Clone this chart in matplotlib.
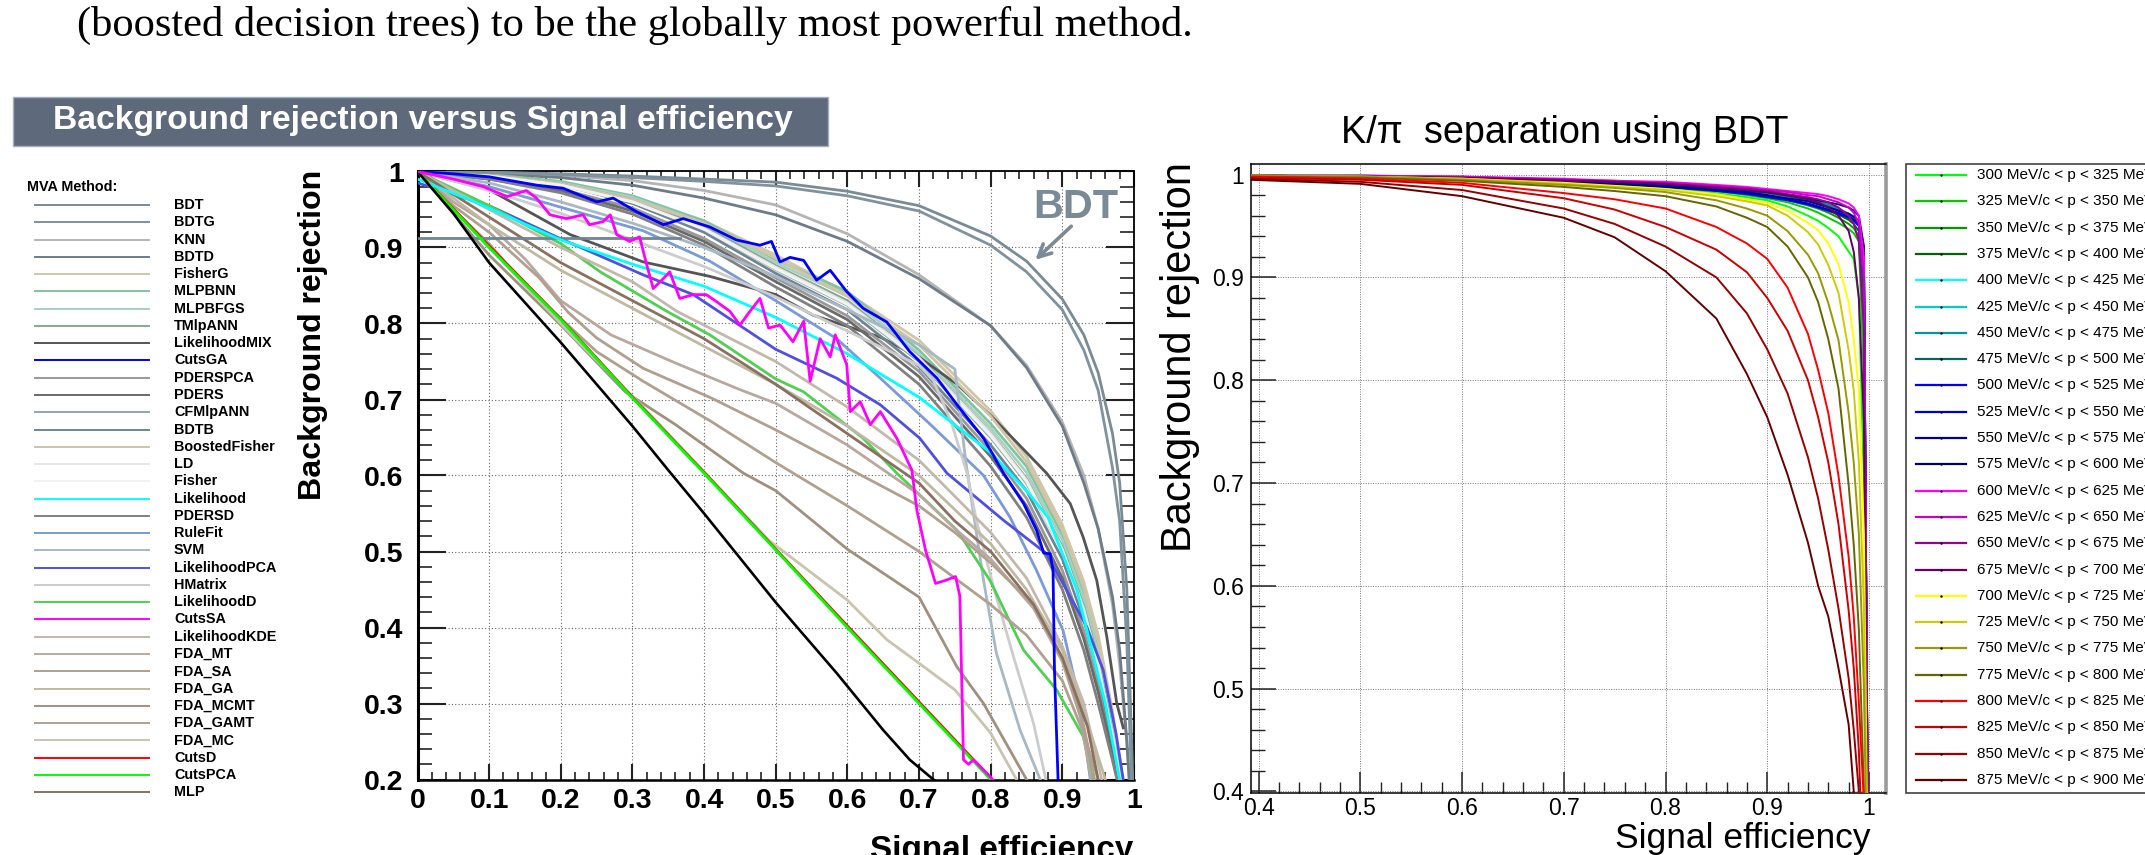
import numpy as np
import matplotlib
matplotlib.use('Agg')
import matplotlib.pyplot as plt
from matplotlib.ticker import MultipleLocator
from matplotlib.patches import Rectangle
from matplotlib.lines import Line2D

plt.rcParams['font.family'] = ['Liberation Sans', 'DejaVu Sans']

# ---------------------------------------------------------------- left plot data
methods = ['BDT', 'BDTG', 'KNN', 'BDTD', 'FisherG', 'MLPBNN', 'MLPBFGS', 'TMlpANN',
           'LikelihoodMIX', 'CutsGA', 'PDERSPCA', 'PDERS', 'CFMlpANN', 'BDTB',
           'BoostedFisher', 'LD', 'Fisher', 'Likelihood', 'PDERSD', 'RuleFit', 'SVM',
           'LikelihoodPCA', 'HMatrix', 'LikelihoodD', 'CutsSA', 'LikelihoodKDE',
           'FDA_MT', 'FDA_SA', 'FDA_GA', 'FDA_MCMT', 'FDA_GAMT', 'FDA_MC', 'CutsD',
           'CutsPCA', 'MLP']
method_colors = ['#7a8b95', '#7f929e', '#b5b5b5', '#6e7b88', '#cfc7a8', '#80c4a0',
                 '#a8d0c0', '#88a890', '#555555', '#0000ff', '#999999', '#6a6a6a',
                 '#8fa8a0', '#6e8595', '#cfc4a8', '#e6e6e6', '#f2f2f2', '#00ffff',
                 '#808080', '#7a9ad8', '#a8b8c4', '#5050e0', '#cccccc', '#50d050',
                 '#ff00ff', '#c4b8ac', '#b8a8a0', '#b0a090', '#c0b8a0', '#a09080',
                 '#b0a090', '#c8c4b0', '#ff0000', '#00ff00', '#8a7060']

# common signal-efficiency grid for the smooth curves
XG = [0, 0.1, 0.2, 0.3, 0.4, 0.5, 0.6, 0.7, 0.8, 0.85, 0.9, 0.93, 0.95, 0.97, 0.98, 0.99, 1.0]
y_BDT = [1.0, 0.999, 0.997, 0.994, 0.99, 0.986, 0.974, 0.955, 0.915, 0.882, 0.832, 0.785, 0.735, 0.655, 0.59, 0.45, 0.15]
y_BDTG = [1.0, 0.999, 0.996, 0.992, 0.987, 0.981, 0.968, 0.948, 0.903, 0.868, 0.818, 0.765, 0.712, 0.61, 0.54, 0.38, 0.1]
y_KNN = [1.0, 0.998, 0.995, 0.988, 0.975, 0.956, 0.918, 0.864, 0.797, 0.745, 0.67, 0.6, 0.53, 0.43, 0.35, 0.25, 0.1]
y_BDTD = [1.0, 0.997, 0.992, 0.982, 0.965, 0.943, 0.908, 0.859, 0.797, 0.742, 0.665, 0.59, 0.53, 0.44, 0.37, 0.25, 0.1]
y_FisherG = [1.0, 0.995, 0.985, 0.965, 0.935, 0.89, 0.84, 0.778, 0.685, 0.625, 0.535, 0.46, 0.39, 0.29, 0.225, 0.15, 0.08]
y_MLPBNN = [1.0, 0.996, 0.987, 0.968, 0.935, 0.884, 0.842, 0.765, 0.668, 0.612, 0.522, 0.445, 0.375, 0.275, 0.215, 0.15, 0.08]
y_MLPBFGS = [1.0, 0.995, 0.985, 0.966, 0.932, 0.88, 0.836, 0.76, 0.662, 0.604, 0.515, 0.438, 0.366, 0.268, 0.21, 0.15, 0.08]
y_TMlpANN = [1.0, 0.995, 0.984, 0.963, 0.928, 0.876, 0.83, 0.756, 0.656, 0.596, 0.506, 0.428, 0.357, 0.262, 0.205, 0.15, 0.08]
y_PDERSPCA = [1.0, 0.992, 0.977, 0.952, 0.912, 0.86, 0.81, 0.737, 0.632, 0.57, 0.475, 0.395, 0.325, 0.24, 0.195, 0.15, 0.08]
y_PDERS = [1.0, 0.99, 0.975, 0.948, 0.908, 0.855, 0.805, 0.73, 0.625, 0.56, 0.465, 0.385, 0.315, 0.235, 0.19, 0.15, 0.08]
y_CFMlpANN = [1.0, 0.994, 0.982, 0.96, 0.924, 0.871, 0.824, 0.75, 0.65, 0.59, 0.50, 0.42, 0.35, 0.255, 0.2, 0.15, 0.08]
y_BDTB = [1.0, 0.995, 0.983, 0.958, 0.92, 0.866, 0.818, 0.743, 0.64, 0.58, 0.49, 0.41, 0.34, 0.25, 0.2, 0.15, 0.08]
y_BoostedFisher = [1.0, 0.995, 0.984, 0.963, 0.932, 0.886, 0.836, 0.772, 0.678, 0.618, 0.528, 0.452, 0.382, 0.282, 0.218, 0.15, 0.08]
y_LD = [1.0, 0.994, 0.982, 0.96, 0.925, 0.874, 0.827, 0.755, 0.655, 0.594, 0.503, 0.424, 0.352, 0.258, 0.203, 0.15, 0.08]
y_Fisher = [1.0, 0.994, 0.982, 0.96, 0.924, 0.872, 0.825, 0.752, 0.652, 0.592, 0.5, 0.42, 0.35, 0.256, 0.2, 0.15, 0.08]
y_PDERSD = [1.0, 0.99, 0.972, 0.944, 0.903, 0.848, 0.797, 0.72, 0.612, 0.545, 0.45, 0.37, 0.30, 0.225, 0.185, 0.15, 0.08]

x_LikelihoodMIX = [0, 0.1, 0.213, 0.315, 0.408, 0.5, 0.552, 0.646, 0.701, 0.753, 0.799, 0.878, 0.911, 0.929, 0.948, 0.962, 0.976, 0.985]
y_LikelihoodMIX = [1.0, 0.976, 0.917, 0.881, 0.862, 0.838, 0.811, 0.782, 0.755, 0.72, 0.68, 0.603, 0.563, 0.519, 0.462, 0.388, 0.30, 0.268]

x_CutsGA = [0, 0.05, 0.1, 0.166, 0.203, 0.25, 0.273, 0.306, 0.343, 0.371, 0.408, 0.445, 0.478, 0.494,
            0.506, 0.52, 0.539, 0.557, 0.576, 0.599, 0.622, 0.655, 0.687, 0.725, 0.753, 0.79, 0.818,
            0.846, 0.864, 0.874, 0.883, 0.887, 0.889, 0.894]
y_CutsGA = [1.0, 0.997, 0.993, 0.982, 0.978, 0.96, 0.965, 0.947, 0.93, 0.938, 0.927, 0.91, 0.903, 0.908,
            0.881, 0.887, 0.883, 0.857, 0.870, 0.842, 0.820, 0.802, 0.763, 0.728, 0.693, 0.649, 0.603,
            0.563, 0.528, 0.498, 0.497, 0.475, 0.344, 0.2]

x_Likelihood = [0, 0.08, 0.2, 0.3, 0.4, 0.5, 0.6, 0.7, 0.8, 0.85, 0.88, 0.92, 0.96, 0.98]
y_Likelihood = [0.99, 0.96, 0.91, 0.878, 0.849, 0.808, 0.76, 0.703, 0.63, 0.58, 0.545, 0.45, 0.3, 0.2]

x_RuleFit = [0, 0.1, 0.2, 0.315, 0.408, 0.5, 0.585, 0.646, 0.716, 0.79, 0.827, 0.864, 0.901, 0.925, 0.939]
y_RuleFit = [1.0, 0.98, 0.953, 0.922, 0.882, 0.83, 0.78, 0.728, 0.667, 0.6, 0.545, 0.475, 0.396, 0.30, 0.2]

x_SVM = [0, 0.1, 0.2, 0.3, 0.4, 0.5, 0.6, 0.7, 0.75, 0.765, 0.776, 0.79, 0.808, 0.841, 0.869]
y_SVM = [1.0, 0.985, 0.96, 0.932, 0.9, 0.862, 0.818, 0.772, 0.74, 0.62, 0.55, 0.462, 0.366, 0.265, 0.2]

x_LikelihoodPCA = [0, 0.1, 0.194, 0.315, 0.385, 0.5, 0.585, 0.646, 0.701, 0.739, 0.818, 0.878, 0.934, 0.957, 0.975, 0.985]
y_LikelihoodPCA = [0.985, 0.955, 0.914, 0.864, 0.838, 0.766, 0.728, 0.693, 0.649, 0.603, 0.541, 0.497, 0.401, 0.344, 0.26, 0.2]

x_HMatrix = [0, 0.1, 0.2, 0.3, 0.4, 0.5, 0.6, 0.7, 0.72, 0.745, 0.767, 0.78, 0.804, 0.832, 0.86, 0.877]
y_HMatrix = [1.0, 0.975, 0.945, 0.91, 0.875, 0.835, 0.79, 0.745, 0.725, 0.67, 0.603, 0.541, 0.453, 0.361, 0.273, 0.2]

x_LikelihoodD = [0, 0.1, 0.2, 0.255, 0.348, 0.408, 0.5, 0.539, 0.622, 0.669, 0.753, 0.799, 0.846, 0.892, 0.929, 0.943]
y_LikelihoodD = [1.0, 0.955, 0.905, 0.868, 0.816, 0.785, 0.727, 0.71, 0.649, 0.603, 0.528, 0.462, 0.37, 0.318, 0.257, 0.2]

x_CutsSA = [0.0, 0.05, 0.092, 0.125, 0.152, 0.166, 0.185, 0.208, 0.231, 0.24, 0.259, 0.269, 0.278, 0.296,
            0.31, 0.32, 0.329, 0.343, 0.352, 0.366, 0.385, 0.403, 0.417, 0.436, 0.45, 0.464, 0.478, 0.49,
            0.506, 0.524, 0.539, 0.548, 0.562, 0.576, 0.583, 0.599, 0.604, 0.618, 0.632, 0.646, 0.669,
            0.69, 0.697, 0.709, 0.723, 0.737, 0.751, 0.757, 0.762, 0.769, 0.776, 0.799, 0.82]
y_CutsSA = [1.0, 0.99, 0.98, 0.967, 0.975, 0.965, 0.943, 0.938, 0.943, 0.93, 0.934, 0.943, 0.917, 0.908,
            0.914, 0.877, 0.846, 0.859, 0.868, 0.833, 0.838, 0.838, 0.829, 0.816, 0.798, 0.816, 0.833, 0.794,
            0.798, 0.776, 0.803, 0.724, 0.780, 0.756, 0.785, 0.746, 0.684, 0.697, 0.667, 0.684, 0.649,
            0.607, 0.554, 0.502, 0.458, 0.462, 0.467, 0.441, 0.226, 0.220, 0.226, 0.204, 0.18]

x_LikelihoodKDE = [0, 0.1, 0.2, 0.3, 0.362, 0.5, 0.6, 0.7, 0.8, 0.85, 0.9, 0.93, 0.955]
y_LikelihoodKDE = [1.0, 0.95, 0.90, 0.855, 0.816, 0.75, 0.69, 0.62, 0.525, 0.465, 0.375, 0.3, 0.2]

x_FDA_MT = [0, 0.05, 0.1, 0.15, 0.2, 0.27, 0.36, 0.45, 0.5, 0.6, 0.7, 0.75, 0.8, 0.86, 0.9, 0.925, 0.94]
y_FDA_MT = [1.0, 0.96, 0.93, 0.885, 0.83, 0.785, 0.748, 0.713, 0.695, 0.64, 0.575, 0.53, 0.49, 0.425, 0.355, 0.283, 0.2]

x_FDA_SA = [0, 0.05, 0.1, 0.17, 0.21, 0.25, 0.315, 0.41, 0.5, 0.6, 0.7, 0.75, 0.8, 0.86, 0.9, 0.93, 0.945]
y_FDA_SA = [1.0, 0.955, 0.92, 0.86, 0.815, 0.781, 0.741, 0.702, 0.66, 0.61, 0.56, 0.525, 0.485, 0.43, 0.36, 0.27, 0.2]

x_FDA_GA = [0, 0.1, 0.2, 0.3, 0.4, 0.5, 0.6, 0.7, 0.75, 0.8, 0.85, 0.9, 0.93, 0.96]
y_FDA_GA = [1.0, 0.93, 0.87, 0.82, 0.77, 0.72, 0.665, 0.60, 0.555, 0.51, 0.45, 0.37, 0.29, 0.2]

x_FDA_MCMT = [0, 0.05, 0.1, 0.2, 0.29, 0.36, 0.455, 0.5, 0.6, 0.7, 0.753, 0.79, 0.85]
y_FDA_MCMT = [1.0, 0.945, 0.89, 0.798, 0.71, 0.667, 0.603, 0.58, 0.503, 0.44, 0.348, 0.3, 0.2]

x_FDA_GAMT = [0, 0.05, 0.1, 0.15, 0.25, 0.315, 0.41, 0.5, 0.6, 0.7, 0.8, 0.85, 0.9, 0.93, 0.95]
y_FDA_GAMT = [1.0, 0.95, 0.905, 0.85, 0.763, 0.724, 0.671, 0.617, 0.56, 0.5, 0.43, 0.39, 0.33, 0.26, 0.2]

x_FDA_MC = [0, 0.05, 0.1, 0.22, 0.315, 0.4, 0.49, 0.6, 0.655, 0.7, 0.75, 0.8, 0.836]
y_FDA_MC = [1.0, 0.95, 0.9, 0.78, 0.69, 0.605, 0.515, 0.436, 0.384, 0.353, 0.318, 0.261, 0.2]

x_Cuts = [0, 0.05, 0.1, 0.2, 0.3, 0.4, 0.5, 0.6, 0.7, 0.8, 0.82]
y_CutsD = [1.0, 0.951, 0.902, 0.806, 0.703, 0.604, 0.503, 0.402, 0.302, 0.202, 0.18]
y_CutsPCA = [1.0, 0.95, 0.9, 0.805, 0.702, 0.603, 0.502, 0.40, 0.30, 0.2, 0.18]

x_MLP = [0, 0.1, 0.2, 0.3, 0.4, 0.5, 0.6, 0.7, 0.75, 0.8, 0.86, 0.9, 0.935, 0.95]
y_MLP = [1.0, 0.94, 0.88, 0.83, 0.78, 0.72, 0.655, 0.59, 0.54, 0.50, 0.43, 0.36, 0.27, 0.2]

# unlabelled curves also drawn in the frame
x_black = [0, 0.05, 0.1, 0.2, 0.3, 0.35, 0.4, 0.5, 0.585, 0.65, 0.687, 0.72, 0.75]
y_black = [1.0, 0.945, 0.88, 0.775, 0.665, 0.607, 0.55, 0.433, 0.34, 0.265, 0.226, 0.2, 0.18]
x_flat = [0.0, 0.366]
y_flat = [0.913, 0.913]

# ---------------------------------------------------------------- right plot data
p_low = [300, 325, 350, 375, 400, 425, 450, 475, 500, 525, 550, 575,
         600, 625, 650, 675, 700, 725, 750, 775, 800, 825, 850, 875]
p_colors = ['#00ff00', '#00cc00', '#009900', '#006600', '#00ffff', '#00cccc', '#009999', '#006666',
            '#0000ff', '#0000cc', '#000099', '#000066', '#ff00ff', '#cc00cc', '#990099', '#660066',
            '#ffff00', '#cccc00', '#999900', '#666600', '#ff0000', '#cc0000', '#990000', '#660000']
XR = [0.39, 0.5, 0.6, 0.7, 0.75, 0.8, 0.85, 0.88, 0.9, 0.92, 0.94, 0.95, 0.96, 0.97, 0.98, 0.985, 0.99, 0.995, 1.0]
r300 = [0.999, 0.998, 0.996, 0.992, 0.99, 0.987, 0.982, 0.978, 0.975, 0.969, 0.96, 0.955, 0.948, 0.94, 0.925, 0.918, 0.88, 0.70, 0.2]
r325 = [0.999, 0.998, 0.996, 0.993, 0.991, 0.988, 0.984, 0.980, 0.977, 0.973, 0.967, 0.963, 0.958, 0.953, 0.947, 0.943, 0.935, 0.80, 0.2]
r350 = [0.999, 0.998, 0.997, 0.994, 0.992, 0.989, 0.985, 0.982, 0.979, 0.975, 0.970, 0.967, 0.963, 0.958, 0.952, 0.948, 0.94, 0.85, 0.2]
r375 = [0.999, 0.998, 0.997, 0.994, 0.992, 0.990, 0.986, 0.983, 0.980, 0.976, 0.971, 0.968, 0.965, 0.961, 0.956, 0.952, 0.945, 0.88, 0.2]
r400 = [0.999, 0.999, 0.997, 0.995, 0.993, 0.991, 0.988, 0.985, 0.982, 0.979, 0.975, 0.972, 0.969, 0.965, 0.960, 0.957, 0.951, 0.90, 0.2]
r425 = [0.999, 0.999, 0.997, 0.995, 0.993, 0.991, 0.988, 0.985, 0.983, 0.980, 0.976, 0.973, 0.970, 0.966, 0.961, 0.958, 0.953, 0.92, 0.2]
r450 = [0.999, 0.998, 0.997, 0.995, 0.993, 0.991, 0.988, 0.986, 0.983, 0.980, 0.976, 0.974, 0.971, 0.967, 0.962, 0.959, 0.954, 0.93, 0.2]
r475 = [0.999, 0.998, 0.997, 0.994, 0.992, 0.990, 0.987, 0.984, 0.982, 0.979, 0.975, 0.972, 0.969, 0.965, 0.960, 0.957, 0.952, 0.92, 0.2]
r500 = [0.999, 0.998, 0.996, 0.993, 0.991, 0.988, 0.984, 0.981, 0.978, 0.975, 0.971, 0.968, 0.965, 0.962, 0.958, 0.955, 0.950, 0.90, 0.2]
r525 = [0.999, 0.998, 0.996, 0.993, 0.991, 0.988, 0.985, 0.982, 0.979, 0.976, 0.972, 0.969, 0.966, 0.963, 0.959, 0.956, 0.951, 0.91, 0.2]
r550 = [0.999, 0.998, 0.996, 0.993, 0.991, 0.989, 0.985, 0.983, 0.980, 0.977, 0.974, 0.971, 0.968, 0.965, 0.962, 0.959, 0.955, 0.92, 0.2]
r575 = [0.999, 0.998, 0.997, 0.994, 0.992, 0.990, 0.987, 0.985, 0.983, 0.980, 0.977, 0.975, 0.973, 0.971, 0.968, 0.965, 0.960, 0.93, 0.2]
r600 = [0.999, 0.999, 0.998, 0.996, 0.994, 0.993, 0.990, 0.988, 0.986, 0.984, 0.982, 0.981, 0.979, 0.976, 0.972, 0.968, 0.960, 0.92, 0.2]
r625 = [0.999, 0.999, 0.998, 0.995, 0.994, 0.992, 0.989, 0.987, 0.985, 0.983, 0.980, 0.979, 0.976, 0.973, 0.968, 0.963, 0.952, 0.90, 0.2]
r650 = [0.999, 0.998, 0.997, 0.995, 0.993, 0.991, 0.988, 0.986, 0.984, 0.981, 0.978, 0.976, 0.973, 0.968, 0.960, 0.952, 0.935, 0.85, 0.2]
r675 = [0.999, 0.998, 0.997, 0.994, 0.993, 0.991, 0.987, 0.985, 0.983, 0.980, 0.976, 0.973, 0.968, 0.960, 0.945, 0.925, 0.88, 0.76, 0.2]
r700 = [0.999, 0.998, 0.996, 0.992, 0.989, 0.986, 0.981, 0.976, 0.972, 0.965, 0.953, 0.946, 0.933, 0.913, 0.876, 0.84, 0.79, 0.65, 0.2]
r725 = [0.999, 0.998, 0.996, 0.991, 0.988, 0.985, 0.979, 0.974, 0.97, 0.96, 0.944, 0.932, 0.912, 0.885, 0.829, 0.79, 0.721, 0.58, 0.2]
r750 = [0.999, 0.998, 0.995, 0.99, 0.987, 0.983, 0.975, 0.967, 0.96, 0.945, 0.922, 0.904, 0.875, 0.839, 0.768, 0.72, 0.651, 0.5, 0.2]
r775 = [0.998, 0.997, 0.994, 0.988, 0.984, 0.979, 0.969, 0.958, 0.949, 0.93, 0.9, 0.876, 0.84, 0.792, 0.698, 0.64, 0.558, 0.40, 0.1]
r800 = [0.998, 0.996, 0.992, 0.982, 0.976, 0.967, 0.949, 0.933, 0.918, 0.89, 0.845, 0.81, 0.768, 0.707, 0.628, 0.57, 0.487, 0.39, 0.1]
r825 = [0.997, 0.995, 0.99, 0.977, 0.966, 0.949, 0.927, 0.905, 0.88, 0.848, 0.80, 0.764, 0.72, 0.66, 0.576, 0.52, 0.44, 0.3, 0.1]
r850 = [0.996, 0.993, 0.985, 0.967, 0.952, 0.93, 0.90, 0.865, 0.83, 0.787, 0.725, 0.685, 0.635, 0.578, 0.51, 0.46, 0.40, 0.3, 0.1]
r875 = [0.995, 0.991, 0.979, 0.958, 0.939, 0.906, 0.86, 0.806, 0.764, 0.708, 0.642, 0.60, 0.57, 0.52, 0.465, 0.40, 0.3, 0.2, 0.1]

# ---------------------------------------------------------------- texts
top_sentence = '(boosted decision trees) to be the globally most powerful method.'
banner_title = 'Background rejection versus Signal efficiency'
right_title = 'K/\u03c0  separation using BDT'
xlabel = 'Signal efficiency'
ylabel = 'Background rejection'

# ---------------------------------------------------------------- figure
W, H = 2145, 855
fig = plt.figure(figsize=(W / 100, H / 100), dpi=100)
fig.patch.set_facecolor('white')


def fx(px):
    return px / W


def fy(py):
    return 1 - py / H


curves = {
    'BDT': (XG, y_BDT), 'BDTG': (XG, y_BDTG), 'KNN': (XG, y_KNN), 'BDTD': (XG, y_BDTD),
    'FisherG': (XG, y_FisherG), 'MLPBNN': (XG, y_MLPBNN), 'MLPBFGS': (XG, y_MLPBFGS),
    'TMlpANN': (XG, y_TMlpANN), 'LikelihoodMIX': (x_LikelihoodMIX, y_LikelihoodMIX),
    'CutsGA': (x_CutsGA, y_CutsGA), 'PDERSPCA': (XG, y_PDERSPCA), 'PDERS': (XG, y_PDERS),
    'CFMlpANN': (XG, y_CFMlpANN), 'BDTB': (XG, y_BDTB), 'BoostedFisher': (XG, y_BoostedFisher),
    'LD': (XG, y_LD), 'Fisher': (XG, y_Fisher), 'Likelihood': (x_Likelihood, y_Likelihood),
    'PDERSD': (XG, y_PDERSD), 'RuleFit': (x_RuleFit, y_RuleFit), 'SVM': (x_SVM, y_SVM),
    'LikelihoodPCA': (x_LikelihoodPCA, y_LikelihoodPCA), 'HMatrix': (x_HMatrix, y_HMatrix),
    'LikelihoodD': (x_LikelihoodD, y_LikelihoodD), 'CutsSA': (x_CutsSA, y_CutsSA),
    'LikelihoodKDE': (x_LikelihoodKDE, y_LikelihoodKDE), 'FDA_MT': (x_FDA_MT, y_FDA_MT),
    'FDA_SA': (x_FDA_SA, y_FDA_SA), 'FDA_GA': (x_FDA_GA, y_FDA_GA),
    'FDA_MCMT': (x_FDA_MCMT, y_FDA_MCMT), 'FDA_GAMT': (x_FDA_GAMT, y_FDA_GAMT),
    'FDA_MC': (x_FDA_MC, y_FDA_MC), 'CutsD': (x_Cuts, y_CutsD), 'CutsPCA': (x_Cuts, y_CutsPCA),
    'MLP': (x_MLP, y_MLP),
}
top_z = {'CutsGA': 4, 'CutsSA': 4, 'Likelihood': 3.5, 'CutsPCA': 3.2, 'BDT': 3.6, 'BDTG': 3.6}

# ---- left axes
axL = fig.add_axes([fx(417.5), fy(779.5), (1134 - 417.5) / W, (779.5 - 171.5) / H])
for name, col in zip(methods, method_colors):
    xs, ys = curves[name]
    axL.plot(xs, ys, color=col, lw=2.0, zorder=top_z.get(name, 3), solid_joinstyle='round')
axL.plot(x_black, y_black, color='black', lw=1.9, zorder=3.8)
axL.plot(x_flat, y_flat, color='#6e8595', lw=2.0, zorder=3.1)

axL.set_xlim(0, 1)
axL.set_ylim(0.2, 1)
xt = np.round(np.arange(0, 1.0001, 0.1), 2)
yt = np.round(np.arange(0.2, 1.0001, 0.1), 2)
axL.set_xticks(xt, labels=[f'{v:g}' for v in xt], fontsize=20.5, fontweight='bold')
axL.set_yticks(yt, labels=[f'{v:g}' for v in yt], fontsize=20.5, fontweight='bold')
axL.xaxis.set_minor_locator(MultipleLocator(0.02))
axL.yaxis.set_minor_locator(MultipleLocator(0.02))
axL.tick_params(which='both', direction='in', top=True, right=True, color='#222222')
axL.tick_params(axis='y', which='major', length=20, width=1.5, pad=10)
axL.tick_params(axis='y', which='minor', length=10, width=1.2)
axL.tick_params(axis='x', which='major', length=11.5, width=1.5, pad=6)
axL.tick_params(axis='x', which='minor', length=6, width=1.2)
axL.grid(True, which='major', linestyle=(0, (1, 2)), color='#666666', lw=0.8, zorder=0)
axL.set_axisbelow(True)
for s in ['top', 'right']:
    axL.spines[s].set_linewidth(1.3)
axL.spines['left'].set_linewidth(2.2)
axL.spines['bottom'].set_linewidth(1.8)

bdt_txt = axL.text(0.8595, 0.9384, 'BDT', color='#7a8a96', fontsize=30, fontweight='bold',
                   ha='left', va='baseline', zorder=6)
axL.annotate('', xy=(0.8595, 0.8813), xytext=(0.9153, 0.9305),
             arrowprops=dict(arrowstyle='->,head_length=0.9,head_width=0.45', color='#7a8a96', lw=2.6),
             zorder=6)

# ---- right axes
axR = fig.add_axes([fx(1251), fy(793), (1886 - 1251) / W, (793 - 164) / H])
for lo, col in zip(p_low, p_colors):
    axR.plot(XR, globals()[f'r{lo}'], color=col, lw=1.4, zorder=3)
axR.set_xlim(0.3926, 1.0167)
axR.set_ylim(0.3985, 1.0103)
xrt = np.round(np.arange(0.4, 1.0001, 0.1), 2)
yrt = np.round(np.arange(0.4, 1.0001, 0.1), 2)
axR.set_xticks(xrt, labels=[f'{v:g}' for v in xrt], fontsize=16.5)
axR.set_yticks(yrt, labels=[f'{v:g}' for v in yrt], fontsize=16.5)
axR.xaxis.set_minor_locator(MultipleLocator(0.02))
axR.yaxis.set_minor_locator(MultipleLocator(0.02))
axR.tick_params(which='both', direction='in', color='#222222')
axR.tick_params(axis='y', which='major', length=18, width=1.1, pad=5)
axR.tick_params(axis='y', which='minor', length=10, width=1.0)
axR.tick_params(axis='x', which='major', length=15, width=1.1, pad=3)
axR.tick_params(axis='x', which='minor', length=8, width=1.0)
axR.grid(True, which='major', linestyle=(0, (1, 1.5)), color='#777777', lw=0.7, zorder=0)
axR.set_axisbelow(True)
for s in ['top', 'left', 'bottom']:
    axR.spines[s].set_linewidth(1.1)
axR.spines['right'].set_color('#9a9a9a')
axR.spines['right'].set_linewidth(2.6)

# ---- texts
t_top = fig.text(fx(77), fy(36), top_sentence, family=['Liberation Serif', 'DejaVu Serif'],
                 fontsize=28, ha='left', va='baseline')
fig.add_artist(Rectangle((fx(12.7), fy(145.7)), (828 - 12.7) / W, (145.7 - 97.3) / H,
                         transform=fig.transFigure, facecolor='#5e6a7c', edgecolor='#a4afbd', lw=1.0))
t_ban = fig.text(fx(52.7), fy(129.3), banner_title, color='white', fontsize=22, fontweight='bold',
                 ha='left', va='baseline')
t_ylL = fig.text(fx(313), fy(170), ylabel, rotation=90, ha='center', va='top', fontsize=23,
                 fontweight='bold')
t_xlL = fig.text(fx(1133), fy(859), xlabel, ha='right', va='baseline', fontsize=24, fontweight='bold')
t_tiR = fig.text(fx(1565), fy(143), right_title, ha='center', va='baseline', fontsize=27)
t_xlR = fig.text(fx(1871), fy(848), xlabel, ha='right', va='baseline', fontsize=25)
t_ylR = fig.text(fx(1180), fy(162), ylabel, rotation=90, ha='center', va='top', fontsize=29)

# left legend
t_mva = fig.text(fx(27), fy(187), 'MVA Method:', fontsize=10.3, fontweight='bold', ha='left', va='center')
leg_texts = []
for i, (name, col) in enumerate(zip(methods, method_colors)):
    yy = 205 + i * 17.27
    fig.add_artist(Line2D([fx(35), fx(149)], [fy(yy), fy(yy)], color=col, lw=1.4,
                          transform=fig.transFigure))
    leg_texts.append(fig.text(fx(174), fy(yy), name, fontsize=10.3, fontweight='bold',
                              ha='left', va='center'))

# right legend
fig.add_artist(Rectangle((fx(1906), fy(793)), (2200 - 1906) / W, (793 - 164) / H,
                         transform=fig.transFigure, facecolor='white', edgecolor='#333333', lw=1.1))
rleg_texts = []
for i, (lo, col) in enumerate(zip(p_low, p_colors)):
    yy = 175 + i * (780 - 175) / 23
    fig.add_artist(Line2D([fx(1916), fx(1966)], [fy(yy), fy(yy)], color=col, lw=1.6,
                          transform=fig.transFigure))
    fig.add_artist(Line2D([fx(1941)], [fy(yy)], color='black', marker='.', markersize=1.5,
                          lw=0, transform=fig.transFigure))
    rleg_texts.append(fig.text(fx(1977), fy(yy), f'{lo} MeV/c < p < {lo + 25} MeV/c',
                               fontsize=10.5, ha='left', va='center'))

# ---- fit font sizes to measured extents
fig.canvas.draw()
rend = fig.canvas.get_renderer()


def fit(t, target, vertical=False):
    bb = t.get_window_extent(renderer=rend)
    cur = bb.height if vertical else bb.width
    t.set_fontsize(t.get_fontsize() * target / cur)


fit(t_top, 1118)
fit(t_ban, 737)
fit(t_ylL, 330, vertical=True)
fit(t_xlL, 263)
fit(t_tiR, 448)
fit(t_xlR, 256)
fit(t_ylR, 390, vertical=True)
fit(bdt_txt, 85)

# legend label sizes from reference widths
probe = fig.text(0, 0, 'LikelihoodMIX', fontsize=10.3, fontweight='bold')
bb = probe.get_window_extent(renderer=rend)
fs_left = 10.3 * 97.7 / bb.width
probe.remove()
t_mva.set_fontsize(fs_left)
for t in leg_texts:
    t.set_fontsize(fs_left)
probe = fig.text(0, 0, '300 MeV/c < p < 325 Me', fontsize=10.5)
bb = probe.get_window_extent(renderer=rend)
fs_right = 10.5 * 169 / bb.width
probe.remove()
for t in rleg_texts:
    t.set_fontsize(fs_right)

fig.savefig('out.png', dpi=100, facecolor='white')
